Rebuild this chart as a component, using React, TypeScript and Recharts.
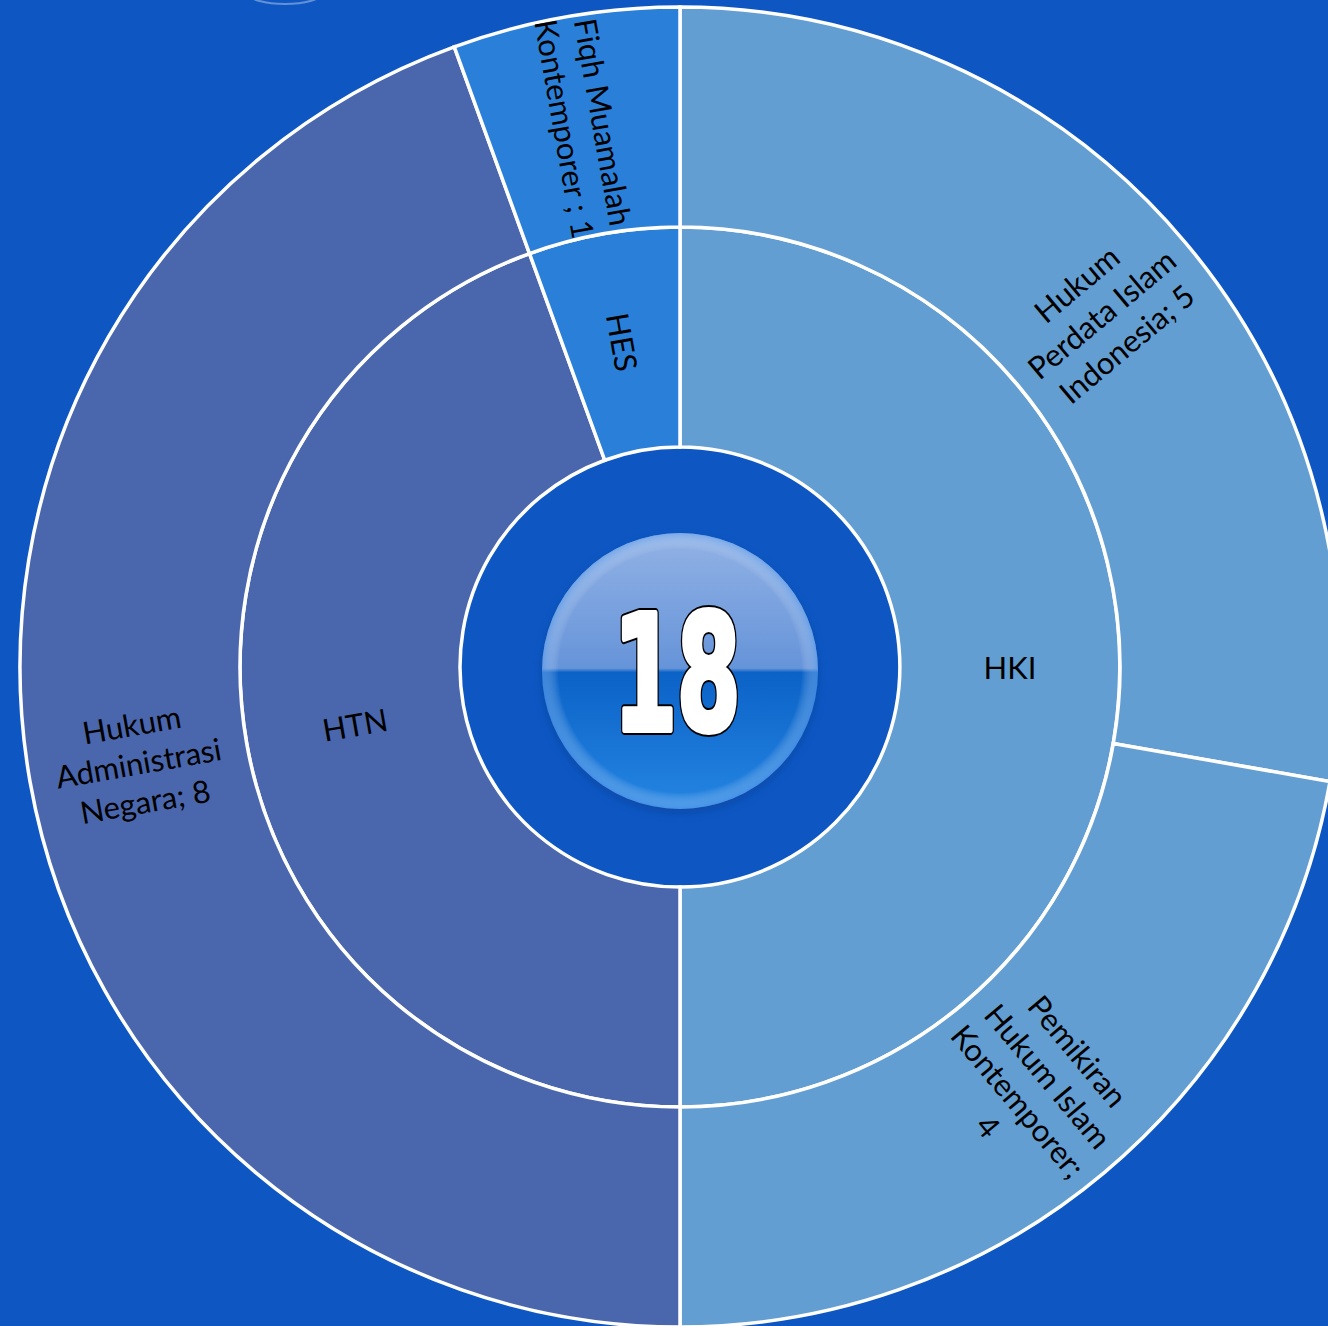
import React from "react";
import { PieChart, Pie, Cell } from "recharts";

const innerNames = ["HKI", "HTN", "HES"];
const innerValues = [9, 8, 1];

const outerNames = [
  "Hukum Perdata Islam Indonesia",
  "Pemikiran Hukum Islam Kontemporer",
  "Hukum Administrasi Negara",
  "Fiqh Muamalah Kontemporer",
];
const outerValues = [5, 4, 8, 1];
const outerLabelLines = [
  ["Hukum", "Perdata Islam", "Indonesia; 5"],
  ["Pemikiran", "Hukum Islam", "Kontemporer;", "4"],
  ["Hukum", "Administrasi", "Negara; 8"],
  ["Fiqh Muamalah", "Kontemporer ; 1"],
];

const totalLabel = "18";

const innerColors = ["#639ED2", "#4A67AD", "#2A80D9"];
const outerColors = ["#639ED2", "#639ED2", "#4A67AD", "#2A80D9"];

const BG = "#0E57C3";
const RADIAN = Math.PI / 180;
const FONT = "Lato, 'DejaVu Sans', sans-serif";
const NUM_FONT = "'Liberation Sans Narrow', 'DejaVu Sans Condensed', 'Liberation Sans', sans-serif";

const innerData = innerNames.map((name, i) => ({ name, value: innerValues[i] }));
const outerData = outerNames.map((name, i) => ({ name, value: outerValues[i] }));

function makeLabel(lines: string[][], fontSize: number, lineH: number) {
  return (props: any) => {
    const { cx, cy, midAngle, innerRadius, outerRadius, index } = props;
    const r = (innerRadius + outerRadius) / 2;
    const x = cx + r * Math.cos(-midAngle * RADIAN);
    const y = cy + r * Math.sin(-midAngle * RADIAN);
    let rot = -midAngle;
    while (rot <= -90) rot += 180;
    while (rot > 90) rot -= 180;
    const ls = lines[index];
    return (
      <text
        key={`lbl-${index}`}
        x={x}
        y={y}
        transform={`rotate(${rot} ${x} ${y})`}
        textAnchor="middle"
        dominantBaseline="central"
        fontFamily={FONT}
        fontSize={fontSize}
        fill="#000"
      >
        {ls.map((l, i) => (
          <tspan key={i} x={x} dy={i === 0 ? -((ls.length - 1) * lineH) / 2 : lineH}>
            {l}
          </tspan>
        ))}
      </text>
    );
  };
}

const innerLabel = makeLabel(innerNames.map((n) => [n]), 31, 38);
const outerLabel = makeLabel(outerLabelLines, 31, 39);

export default function App() {
  const W = 1328;
  const H = 1326;
  const cx = 680;
  const cy = 667;
  return (
    <div
      style={{
        position: "absolute",
        left: 0,
        top: 0,
        width: W,
        height: H,
        background: BG,
        overflow: "hidden",
      }}
    >
      <PieChart width={W} height={H} margin={{ top: 0, right: 0, bottom: 0, left: 0 }}>
        <defs>
          <linearGradient id="btnFill" x1="0" y1="0" x2="0" y2="1">
            <stop offset="0%" stopColor="#92B2E5" />
            <stop offset="49%" stopColor="#6694D9" />
            <stop offset="50.5%" stopColor="#0B62C7" />
            <stop offset="100%" stopColor="#2585E2" />
          </linearGradient>
          <radialGradient id="btnRim" cx="0.5" cy="0.5" r="0.5">
            <stop offset="88%" stopColor="#ffffff" stopOpacity="0" />
            <stop offset="100%" stopColor="#5FA0EE" stopOpacity="0.55" />
          </radialGradient>
          <filter id="btnShadow" x="-20%" y="-20%" width="140%" height="140%">
            <feGaussianBlur stdDeviation="5" />
          </filter>
        </defs>
        <ellipse cx={285} cy={-6} rx={36} ry={10} fill="none" stroke="#ffffff" strokeOpacity={0.35} strokeWidth={2} />
        <Pie
          data={innerData}
          dataKey="value"
          nameKey="name"
          cx={cx}
          cy={cy}
          innerRadius={220}
          outerRadius={440}
          startAngle={90}
          endAngle={-270}
          stroke="#ffffff"
          strokeWidth={3.5}
          label={innerLabel}
          labelLine={false}
          isAnimationActive={false}
        >
          {innerData.map((d, i) => (
            <Cell key={d.name} fill={innerColors[i]} />
          ))}
        </Pie>
        <Pie
          data={outerData}
          dataKey="value"
          nameKey="name"
          cx={cx}
          cy={cy}
          innerRadius={440}
          outerRadius={660}
          startAngle={90}
          endAngle={-270}
          stroke="#ffffff"
          strokeWidth={3.5}
          label={outerLabel}
          labelLine={false}
          isAnimationActive={false}
        >
          {outerData.map((d, i) => (
            <Cell key={d.name} fill={outerColors[i]} />
          ))}
        </Pie>
        <g>
          <circle cx={cx} cy={cy + 8} r={138} fill="#083F94" opacity={0.6} filter="url(#btnShadow)" />
          <circle cx={cx} cy={cy + 4} r={138} fill="url(#btnFill)" />
          <circle cx={cx} cy={cy + 4} r={138} fill="url(#btnRim)" />
          <text
            x={cx - 3}
            y={cy + 63}
            textAnchor="middle"
            fontFamily={NUM_FONT}
            fontWeight="bold"
            fontSize={160}
            fill="#000000"
            stroke="#000000"
            strokeWidth={10}
            strokeLinejoin="round"
            textLength={127}
            lengthAdjust="spacingAndGlyphs"
          >
            {totalLabel}
          </text>
          <text
            x={cx - 3}
            y={cy + 63}
            textAnchor="middle"
            fontFamily={NUM_FONT}
            fontWeight="bold"
            fontSize={160}
            fill="#ffffff"
            stroke="#ffffff"
            strokeWidth={6}
            strokeLinejoin="round"
            textLength={127}
            lengthAdjust="spacingAndGlyphs"
          >
            {totalLabel}
          </text>
        </g>
      </PieChart>
    </div>
  );
}
